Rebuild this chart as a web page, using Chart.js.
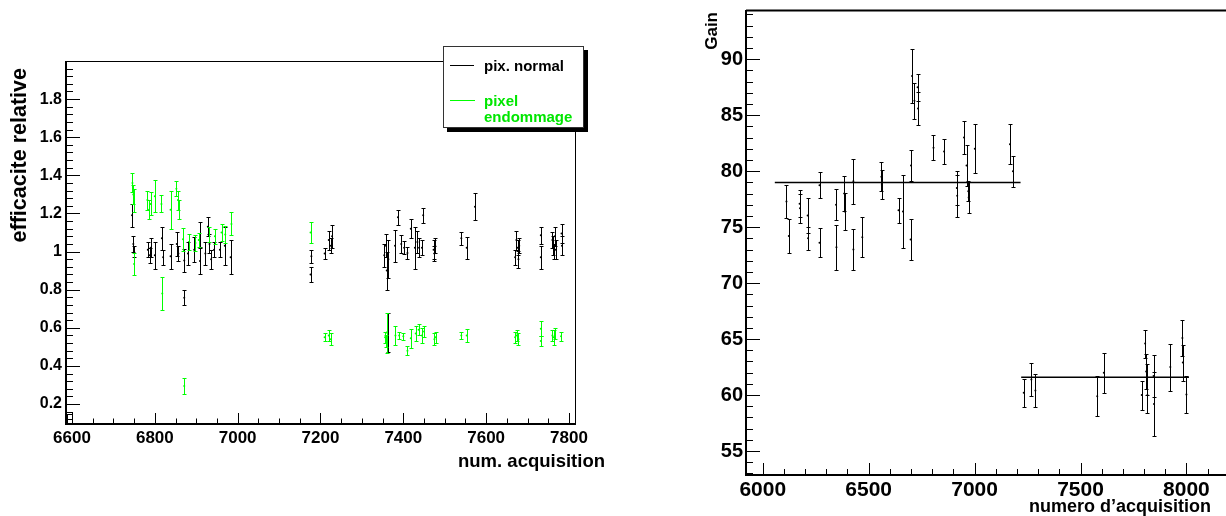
<!DOCTYPE html>
<html>
<head>
<meta charset="utf-8">
<script src="https://cdn.jsdelivr.net/npm/chart.js@4.4.0/dist/chart.umd.min.js"></script>
<style>
  html, body { margin: 0; padding: 0; background: #fff; overflow: hidden; }
  body { width: 1226px; height: 516px; position: relative; }
  #effChart { position: absolute; left: 0; top: 0; }
  #gainChart { position: absolute; left: 610px; top: 0; }
</style>
</head>
<body>
<canvas id="effChart" width="610" height="516"></canvas>
<canvas id="gainChart" width="630" height="516"></canvas>
<script>
// ---- Left panel: relative efficiency per acquisition ----
const normalX = [6745, 6748, 6750, 6783, 6788, 6790, 6800, 6817, 6820, 6838, 6853, 6857, 6871, 6871,
    6880, 6895, 6909, 6909, 6922, 6928, 6932, 6936, 6943, 6957, 6969, 6983,
    7176, 7178, 7210, 7220, 7225, 7228,
    7354, 7358, 7360, 7364, 7362, 7380, 7387, 7395, 7402, 7410, 7418, 7428, 7434, 7438, 7445, 7448,
    7473, 7475, 7477, 7540, 7553, 7573,
    7670, 7673, 7676, 7678, 7680, 7732, 7732, 7760, 7762, 7764, 7766, 7768, 7782, 7783];
const normalY = [1.19, 1.04, 1.00, 1.01, 0.98, 1.02, 0.98, 1.07, 0.97, 0.975, 1.04, 0.99, 0.953, 0.757,
    0.99, 1.01, 1.09, 0.95, 0.99, 1.13, 1.04, 0.96, 1.01, 1.01, 1.03, 0.97,
    0.88, 0.975, 0.99, 1.06, 1.03, 1.08,
    0.98, 1.03, 0.90, 0.96, 0.575, 1.03, 1.18, 1.04, 1.02, 0.993, 1.12, 1.02, 1.05, 1.02, 1.02, 1.19,
    1.01, 0.99, 1.03, 1.07, 1.02, 1.235,
    0.97, 1.06, 1.02, 0.96, 1.03, 1.085, 0.97, 1.06, 1.03, 1.00, 1.08, 1.01, 1.095, 1.03];
const normalErr = [0.06, 0.04, 0.03, 0.04, 0.04, 0.05, 0.07, 0.06, 0.04, 0.065, 0.065, 0.04, 0.06, 0.04,
    0.06, 0.065, 0.065, 0.07, 0.06, 0.05, 0.05, 0.05, 0.04, 0.04, 0.10, 0.09,
    0.04, 0.033, 0.03, 0.05, 0.04, 0.06,
    0.06, 0.06, 0.10, 0.10, 0.10, 0.085, 0.04, 0.045, 0.035, 0.033, 0.05, 0.11, 0.06, 0.05, 0.04, 0.04,
    0.05, 0.04, 0.04, 0.035, 0.057, 0.072,
    0.04, 0.05, 0.04, 0.045, 0.04, 0.045, 0.06, 0.04, 0.05, 0.04, 0.05, 0.05, 0.05, 0.05];

const damagedX = [6746, 6748, 6750, 6750, 6782, 6786, 6790, 6800, 6816, 6818, 6838, 6852, 6856, 6858,
    6868, 6871, 6882, 6898, 6906, 6930, 6945, 6961, 6970, 6985,
    7176, 7210, 7220, 7225,
    7356, 7358, 7360, 7381, 7390, 7400, 7410, 7418, 7430, 7437, 7445, 7450, 7475, 7478,
    7540, 7553, 7670, 7674, 7678, 7732, 7732, 7760, 7763, 7766, 7781];
const damagedY = [1.36, 1.30, 1.27, 0.935, 1.27, 1.22, 1.25, 1.29, 1.25, 0.78, 1.22, 1.33, 1.27, 1.22,
    1.065, 0.295, 1.05, 1.045, 1.06, 1.09, 1.08, 1.10, 1.09, 1.145,
    1.10, 0.55, 0.56, 0.54,
    0.55, 0.53, 0.575, 0.56, 0.56, 0.555, 0.48, 0.545, 0.57, 0.59, 0.56, 0.58, 0.54, 0.55,
    0.56, 0.56, 0.55, 0.56, 0.54, 0.595, 0.53, 0.56, 0.55, 0.57, 0.555];
const damagedErr = [0.05, 0.05, 0.06, 0.06, 0.05, 0.05, 0.06, 0.085, 0.045, 0.085, 0.10, 0.04, 0.05, 0.05,
    0.06, 0.04, 0.04, 0.04, 0.035, 0.04, 0.04, 0.045, 0.045, 0.06,
    0.055, 0.02, 0.03, 0.03,
    0.03, 0.03, 0.105, 0.05, 0.02, 0.02, 0.025, 0.05, 0.04, 0.03, 0.04, 0.03, 0.03, 0.03,
    0.02, 0.035, 0.03, 0.03, 0.03, 0.04, 0.025, 0.03, 0.04, 0.03, 0.025];

const effXTicks = [6600, 6800, 7000, 7200, 7400, 7600, 7800];
const effYTicks = [0.2, 0.4, 0.6, 0.8, 1.0, 1.2, 1.4, 1.6, 1.8];

// ---- Right panel: gain per acquisition ----
const gainX = [6112, 6123, 6174, 6176, 6212, 6214, 6268, 6268, 6346, 6348, 6385, 6387, 6428, 6428,
    6470, 6560, 6562, 6641, 6662, 6700, 6698, 6705, 6716, 6731, 6733, 6806, 6856, 6916, 6918,
    6950, 6962, 6970, 6972, 7001, 7167, 7181,
    7232, 7268, 7287, 7579, 7610, 7789, 7805, 7810, 7814, 7816, 7845, 7847, 7924, 7981, 7983, 8000];
const gainY = [77.3, 74.2, 77.1, 76.7, 76.05, 74.0, 78.75, 73.6, 77.0, 73.2, 78.0, 76.4, 79.1, 73.0,
    74.1, 79.5, 78.8, 76.5, 76.4, 80.5, 73.9, 88.5, 86.3, 87.5, 85.6, 82.1, 81.75, 78.5, 77.8,
    83.0, 80.5, 78.2, 77.65, 82.0, 82.4, 80.0,
    60.2, 61.4, 60.4, 59.9, 62.0, 60.0, 64.6, 62.1, 61.4, 60.0, 61.7, 59.2, 62.5, 65.1, 62.9, 60.05];
const gainErr = [1.5, 1.5, 1.2, 1.3, 1.55, 1.0, 1.15, 1.3, 1.4, 2.0, 1.55, 1.65, 2.0, 1.85,
    1.8, 1.3, 1.3, 1.1, 3.25, 1.4, 1.85, 2.45, 1.6, 1.2, 1.5, 1.1, 1.15, 1.5, 1.9,
    1.5, 1.8, 0.9, 1.35, 2.2, 1.8, 1.4,
    1.24, 1.5, 1.5, 1.8, 1.8, 1.3, 1.25, 1.55, 1.4, 1.6, 1.85, 2.85, 2.1, 1.6, 1.6, 1.65];

// constant fits over the two periods
const fitHighX = [6057, 7217];
const fitHighY = [79.0, 79.0];
const fitLowX = [7220, 8012];
const fitLowY = [61.6, 61.6];

const gainXTicks = [6000, 6500, 7000, 7500, 8000];
const gainYTicks = [55, 60, 65, 70, 75, 80, 85, 90];

const FONT = "'Liberation Sans', Arial, Helvetica, sans-serif";
const GREEN = '#00ff00';

function toPoints(xs, ys) {
    return xs.map((x, i) => ({ x: x, y: ys[i] }));
}

// keep the plot frame exactly where padding + fixed axis sizes put it
function noLabelPadding(s) {
    s.paddingTop = 0;
    s.paddingBottom = 0;
    s.paddingLeft = 0;
    s.paddingRight = 0;
}

// Vertical error bars with small caps, ROOT style
const errorBarPlugin = {
    id: 'errorBars',
    afterDatasetsDraw(chart) {
        const ctx = chart.ctx;
        const xs = chart.scales.x;
        const ys = chart.scales.y;
        const a = chart.chartArea;
        ctx.save();
        ctx.beginPath();
        ctx.rect(a.left, a.top, a.right - a.left, a.bottom - a.top);
        ctx.clip();
        chart.data.datasets.forEach(ds => {
            if (!ds.errors) return;
            ctx.strokeStyle = ds.borderColor;
            ctx.lineWidth = 1;
            ds.data.forEach((p, i) => {
                const e = ds.errors[i];
                const px = Math.round(xs.getPixelForValue(p.x)) + 0.5;
                const top = Math.round(ys.getPixelForValue(p.y + e)) + 0.5;
                const bot = Math.round(ys.getPixelForValue(p.y - e)) + 0.5;
                ctx.beginPath();
                ctx.moveTo(px, top);
                ctx.lineTo(px, bot);
                ctx.moveTo(px - 2, top);
                ctx.lineTo(px + 2, top);
                ctx.moveTo(px - 2, bot);
                ctx.lineTo(px + 2, bot);
                ctx.stroke();
            });
        });
        ctx.restore();
    }
};

// Frame, inward ticks and titles
function framePlugin(cfg) {
    return {
        id: 'rootFrame',
        afterDraw(chart) {
            const ctx = chart.ctx;
            const a = chart.chartArea;
            const xs = chart.scales.x;
            const ys = chart.scales.y;
            ctx.save();
            ctx.strokeStyle = '#000';

            // top / right border
            ctx.lineWidth = cfg.borderWidth;
            ctx.beginPath();
            ctx.moveTo(a.left, a.top + 0.5);
            ctx.lineTo(a.right, a.top + 0.5);
            if (cfg.rightBorder) {
                ctx.moveTo(a.right - 0.5, a.top);
                ctx.lineTo(a.right - 0.5, a.bottom);
            }
            ctx.stroke();

            // axis lines
            ctx.lineWidth = 2;
            ctx.beginPath();
            ctx.moveTo(a.left, a.top);
            ctx.lineTo(a.left, a.bottom);
            ctx.lineTo(a.right, a.bottom);
            ctx.stroke();

            // ticks
            ctx.lineWidth = 1;
            ctx.beginPath();
            const xMinorStart = Math.ceil(xs.min / cfg.xMinor) * cfg.xMinor;
            for (let v = xMinorStart; v <= xs.max; v += cfg.xMinor) {
                const major = cfg.xTicks.some(t => Math.abs(t - v) < 1e-6);
                const px = Math.round(xs.getPixelForValue(v)) + 0.5;
                ctx.moveTo(px, a.bottom);
                ctx.lineTo(px, a.bottom - (major ? cfg.xMajorLen : cfg.xMajorLen / 2));
            }
            const yMinorStart = Math.ceil(ys.min / cfg.yMinor - 1e-6) * cfg.yMinor;
            for (let v = yMinorStart; v <= ys.max + 1e-9; v += cfg.yMinor) {
                const major = cfg.yTicks.some(t => Math.abs(t - v) < 1e-6);
                const py = Math.round(ys.getPixelForValue(v)) + 0.5;
                ctx.moveTo(a.left, py);
                ctx.lineTo(a.left + (major ? cfg.yMajorLen : cfg.yMajorLen / 2), py);
            }
            ctx.stroke();

            // axis titles
            ctx.fillStyle = '#000';
            ctx.font = 'bold ' + cfg.xTitle.size + 'px ' + FONT;
            ctx.textAlign = 'right';
            ctx.textBaseline = 'alphabetic';
            ctx.fillText(cfg.xTitle.text, cfg.xTitle.x, cfg.xTitle.y);

            ctx.save();
            ctx.font = 'bold ' + cfg.yTitle.size + 'px ' + FONT;
            ctx.translate(cfg.yTitle.x, cfg.yTitle.y);
            ctx.rotate(-Math.PI / 2);
            ctx.textAlign = 'right';
            ctx.fillText(cfg.yTitle.text, 0, 0);
            ctx.restore();

            if (cfg.extra) cfg.extra(ctx, a);
            ctx.restore();
        }
    };
}

// Legend box with shadow for the efficiency panel
function drawEffLegend(ctx, a) {
    ctx.fillStyle = '#000';
    ctx.fillRect(447, 50, 141, 82);
    ctx.fillStyle = '#fff';
    ctx.fillRect(443, 46, 141, 82);
    ctx.strokeStyle = '#333';
    ctx.lineWidth = 1;
    ctx.strokeRect(443.5, 46.5, 140, 81);

    ctx.lineWidth = 1;
    ctx.strokeStyle = '#000';
    ctx.beginPath();
    ctx.moveTo(450, 65.5);
    ctx.lineTo(474, 65.5);
    ctx.stroke();
    ctx.strokeStyle = GREEN;
    ctx.beginPath();
    ctx.moveTo(450, 100.5);
    ctx.lineTo(475, 100.5);
    ctx.stroke();

    ctx.font = 'bold 15px ' + FONT;
    ctx.textAlign = 'left';
    ctx.textBaseline = 'alphabetic';
    ctx.fillStyle = '#000';
    ctx.fillText('pix. normal', 484, 71);
    ctx.fillStyle = '#00e600';
    ctx.fillText('pixel', 484, 106);
    ctx.fillText('endommage', 484, 122);

    // small box in the lower-left corner
    ctx.strokeStyle = '#000';
    ctx.strokeRect(67.5, 414.5, 5, 9);
}

function tickFont(size) {
    return { family: FONT, size: size, weight: 'bold' };
}

// ---- Left chart ----
new Chart(document.getElementById('effChart').getContext('2d'), {
    type: 'scatter',
    data: {
        datasets: [
            {
                label: 'pix. normal',
                data: toPoints(normalX, normalY),
                errors: normalErr,
                borderColor: '#000',
                backgroundColor: '#000',
                pointRadius: 1,
                pointBorderWidth: 0
            },
            {
                label: 'pixel endommage',
                data: toPoints(damagedX, damagedY),
                errors: damagedErr,
                borderColor: GREEN,
                backgroundColor: GREEN,
                pointRadius: 1,
                pointBorderWidth: 0
            }
        ]
    },
    options: {
        responsive: false,
        devicePixelRatio: 1,
        animation: false,
        layout: { padding: { top: 61, right: 34, left: 0, bottom: 0 } },
        plugins: { legend: { display: false }, tooltip: { enabled: false } },
        scales: {
            x: {
                type: 'linear',
                min: 6585.5,
                max: 7817,
                afterBuildTicks: s => { s.ticks = effXTicks.map(v => ({ value: v })); },
                afterFit: s => { s.height = 92; noLabelPadding(s); },
                grid: { display: false, drawTicks: false },
                border: { display: false },
                ticks: { color: '#000', padding: 4, font: tickFont(17), autoSkip: false, maxRotation: 0,
                    callback: v => String(v) }
            },
            y: {
                type: 'linear',
                min: 0.095,
                max: 2.0,
                afterBuildTicks: s => { s.ticks = effYTicks.map(v => ({ value: v })); },
                afterFit: s => { s.width = 66; noLabelPadding(s); },
                grid: { display: false, drawTicks: false },
                border: { display: false },
                ticks: { color: '#000', padding: 4, font: tickFont(16), autoSkip: false,
                    callback: v => String(Math.round(v * 10) / 10) }
            }
        }
    },
    plugins: [errorBarPlugin, framePlugin({
        borderWidth: 1,
        rightBorder: true,
        xTicks: effXTicks, xMinor: 50, xMajorLen: 11,
        yTicks: effYTicks, yMinor: 0.04, yMajorLen: 14,
        xTitle: { text: 'num. acquisition', size: 18.5, x: 605, y: 467 },
        yTitle: { text: 'efficacite relative', size: 21.5, x: 26, y: 68 },
        extra: drawEffLegend
    })]
});

// ---- Right chart ----
new Chart(document.getElementById('gainChart').getContext('2d'), {
    type: 'scatter',
    data: {
        datasets: [
            {
                label: 'Gain',
                data: toPoints(gainX, gainY),
                errors: gainErr,
                borderColor: '#000',
                backgroundColor: '#000',
                pointRadius: 1,
                pointBorderWidth: 0
            },
            {
                type: 'line',
                data: toPoints(fitHighX, fitHighY),
                borderColor: '#000',
                borderWidth: 1.5,
                pointRadius: 0
            },
            {
                type: 'line',
                data: toPoints(fitLowX, fitLowY),
                borderColor: '#000',
                borderWidth: 1.5,
                pointRadius: 0
            }
        ]
    },
    options: {
        responsive: false,
        devicePixelRatio: 1,
        animation: false,
        layout: { padding: { top: 10, right: 0, left: 0, bottom: 0 } },
        plugins: { legend: { display: false }, tooltip: { enabled: false } },
        scales: {
            x: {
                type: 'linear',
                min: 5921,
                max: 8234,
                afterBuildTicks: s => { s.ticks = gainXTicks.map(v => ({ value: v })); },
                afterFit: s => { s.height = 41; noLabelPadding(s); },
                grid: { display: false, drawTicks: false },
                border: { display: false },
                ticks: { color: '#000', padding: 3, font: tickFont(21), autoSkip: false, maxRotation: 0,
                    callback: v => String(v) }
            },
            y: {
                type: 'linear',
                min: 52.86,
                max: 94.4,
                afterBuildTicks: s => { s.ticks = gainYTicks.map(v => ({ value: v })); },
                afterFit: s => { s.width = 136; noLabelPadding(s); },
                grid: { display: false, drawTicks: false },
                border: { display: false },
                ticks: { color: '#000', padding: 3, font: tickFont(20), autoSkip: false,
                    callback: v => String(v) }
            }
        }
    },
    plugins: [errorBarPlugin, framePlugin({
        borderWidth: 2,
        rightBorder: false,
        xTicks: gainXTicks, xMinor: 100, xMajorLen: 12,
        yTicks: gainYTicks, yMinor: 1, yMajorLen: 14,
        xTitle: { text: 'numero d\u2019acquisition', size: 18, x: 601, y: 512 },
        yTitle: { text: 'Gain', size: 17, x: 107, y: 12 }
    })]
});
</script>
</body>
</html>
